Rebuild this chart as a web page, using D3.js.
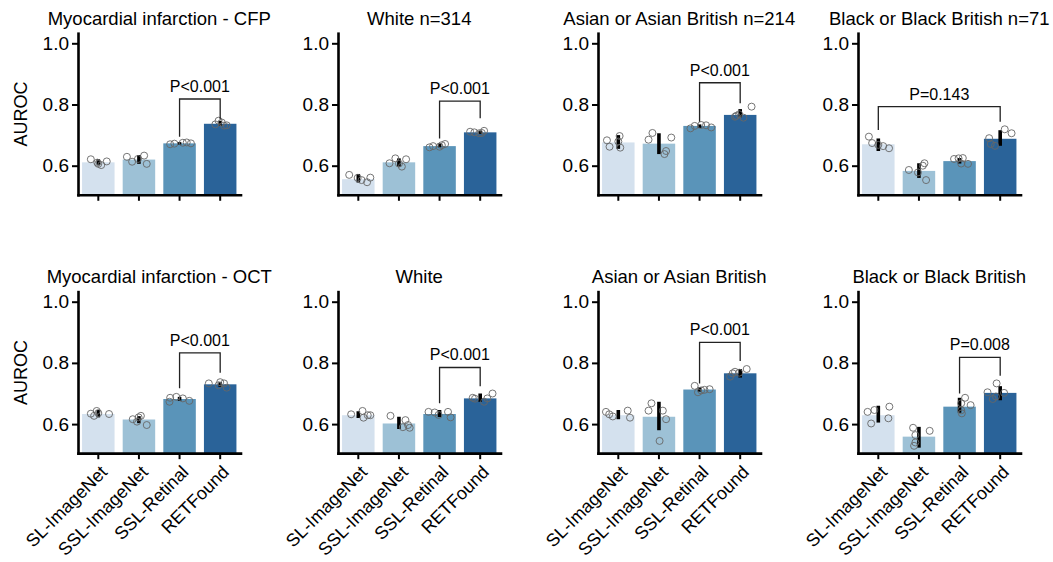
<!DOCTYPE html>
<html>
<head>
<meta charset="utf-8">
<script src="https://cdn.jsdelivr.net/npm/d3@7"></script>
<style>
  html, body { margin: 0; padding: 0; background: #fff; }
  svg { display: block; font-family: "Liberation Sans", Arial, Helvetica, sans-serif; }
</style>
</head>
<body>
<svg id="chart" width="1053" height="562"></svg>
<script>
// ---------------- DATA ----------------
const models = ["SL-ImageNet", "SSL-ImageNet", "SSL-Retinal", "RETFound"];
const panelTitles = [
  "Myocardial infarction - CFP", "White n=314", "Asian or Asian British n=214", "Black or Black British n=71",
  "Myocardial infarction - OCT", "White", "Asian or Asian British", "Black or Black British"
];
const yTicks = [0.6, 0.8, 1.0];
const yLabel = "AUROC";

// bar heights (mean AUROC over folds)
const meanAUROC = [
  [0.611, 0.620, 0.673, 0.737],
  [0.556, 0.611, 0.664, 0.709],
  [0.676, 0.672, 0.730, 0.766],
  [0.670, 0.583, 0.615, 0.688],
  [0.633, 0.615, 0.682, 0.730],
  [0.629, 0.602, 0.633, 0.684],
  [0.629, 0.624, 0.713, 0.766],
  [0.629, 0.559, 0.657, 0.702]
];
// error bar low / high
const errLow = [
  [0.603, 0.606, 0.669, 0.730],
  [0.545, 0.597, 0.660, 0.704],
  [0.655, 0.638, 0.723, 0.758],
  [0.648, 0.560, 0.607, 0.665],
  [0.622, 0.603, 0.676, 0.722],
  [0.620, 0.584, 0.623, 0.673],
  [0.616, 0.580, 0.706, 0.752],
  [0.605, 0.523, 0.637, 0.678]
];
const errHigh = [
  [0.621, 0.635, 0.677, 0.747],
  [0.573, 0.624, 0.673, 0.714],
  [0.700, 0.706, 0.735, 0.785],
  [0.689, 0.608, 0.625, 0.716],
  [0.646, 0.626, 0.689, 0.737],
  [0.642, 0.624, 0.646, 0.700],
  [0.646, 0.673, 0.720, 0.780],
  [0.660, 0.591, 0.686, 0.724]
];
// per-fold AUROC values (5 folds per bar)
const foldValues = [
  [[0.621, 0.610, 0.602, 0.614, 0.606], [0.629, 0.613, 0.622, 0.633, 0.606], [0.670, 0.672, 0.675, 0.676, 0.673], [0.747, 0.741, 0.731, 0.735, 0.732]],
  [[0.570, 0.560, 0.553, 0.546, 0.561], [0.608, 0.624, 0.597, 0.621, 0.607], [0.660, 0.664, 0.662, 0.667, 0.671], [0.711, 0.709, 0.706, 0.714, 0.707]],
  [[0.683, 0.662, 0.697, 0.659, 0.679], [0.685, 0.707, 0.638, 0.648, 0.692], [0.722, 0.730, 0.733, 0.732, 0.725], [0.760, 0.768, 0.757, 0.763, 0.793]],
  [[0.695, 0.674, 0.668, 0.664, 0.657], [0.586, 0.578, 0.600, 0.608, 0.553], [0.622, 0.624, 0.625, 0.607, 0.606], [0.690, 0.671, 0.665, 0.719, 0.706]],
  [[0.634, 0.627, 0.643, 0.636, 0.633], [0.616, 0.608, 0.627, 0.597, 0.622], [0.673, 0.686, 0.689, 0.684, 0.676], [0.733, 0.737, 0.733, 0.719, 0.727]],
  [[0.632, 0.643, 0.621, 0.629, 0.629], [0.627, 0.613, 0.597, 0.588, 0.590], [0.640, 0.638, 0.630, 0.640, 0.622], [0.686, 0.683, 0.673, 0.684, 0.700]],
  [[0.640, 0.632, 0.625, 0.644, 0.621], [0.644, 0.668, 0.545, 0.644, 0.616], [0.725, 0.704, 0.710, 0.712, 0.714], [0.755, 0.766, 0.771, 0.768, 0.780]],
  [[0.640, 0.602, 0.646, 0.657, 0.619], [0.588, 0.564, 0.529, 0.578, 0.540], [0.668, 0.635, 0.686, 0.662, 0.645], [0.704, 0.682, 0.733, 0.702, 0.690]]
];
// horizontal strip jitter of each fold point (fraction of bar width)
const foldJitter = [
  [[-0.23, -0.03, 0.09, 0.26, 0.00], [-0.37, -0.21, -0.03, 0.16, 0.24], [-0.29, -0.16, 0.10, 0.22, 0.35], [-0.05, 0.05, 0.12, -0.15, 0.20]],
  [[-0.28, -0.02, 0.10, 0.27, 0.37], [-0.29, -0.11, 0.09, 0.22, 0.00], [-0.31, -0.20, 0.00, 0.07, 0.17], [-0.31, -0.18, -0.03, 0.12, 0.05]],
  [[-0.35, -0.27, 0.04, 0.06, 0.00], [-0.32, -0.20, 0.17, 0.22, 0.38], [-0.28, -0.15, 0.05, 0.20, 0.36], [-0.16, -0.03, 0.10, -0.12, 0.35]],
  [[-0.29, -0.19, 0.00, 0.15, 0.33], [-0.31, -0.03, 0.12, 0.17, 0.22], [-0.17, -0.03, 0.10, 0.05, 0.26], [-0.34, -0.29, -0.16, 0.14, 0.35]],
  [[-0.23, -0.13, -0.05, 0.00, 0.33], [-0.19, -0.06, 0.06, 0.24, -0.01], [-0.31, -0.29, -0.10, 0.10, 0.30], [-0.35, 0.00, 0.12, 0.20, -0.05]],
  [[-0.22, 0.13, 0.16, 0.29, 0.37], [-0.26, 0.20, 0.28, 0.33, 0.12], [-0.34, -0.15, -0.03, 0.26, 0.34], [-0.23, -0.16, 0.12, 0.22, 0.38]],
  [[-0.38, -0.28, -0.17, 0.29, 0.36], [-0.32, -0.23, 0.02, 0.12, 0.22], [-0.15, -0.05, 0.05, 0.15, 0.31], [-0.31, -0.23, -0.16, -0.03, 0.20]],
  [[-0.33, -0.22, -0.12, 0.34, 0.31], [-0.18, -0.11, -0.15, 0.33, -0.11], [0.05, 0.07, 0.17, 0.34, 0.05], [-0.39, -0.23, -0.11, 0.12, -0.13]]
];
// significance annotations
const sigPairs = [[2, 3], [2, 3], [2, 3], [0, 3], [2, 3], [2, 3], [2, 3], [2, 3]];
const sigLabels = ["P<0.001", "P<0.001", "P<0.001", "P=0.143", "P<0.001", "P<0.001", "P<0.001", "P=0.008"];
const sigTop = [0.818, 0.811, 0.871, 0.793, 0.833, 0.785, 0.867, 0.818];
const sigLeftEnd = [0.695, 0.689, 0.744, 0.717, 0.717, 0.668, 0.733, 0.700];
const sigRightEnd = [0.753, 0.755, 0.804, 0.744, 0.768, 0.724, 0.806, 0.758];

const barColors = ["#d4e1ee", "#9dc1d6", "#5a94b9", "#2a6399"];

// ---------------- LAYOUT ----------------
const svg = d3.select("#chart");
const colLeft = [78, 338, 598, 858];
const axW = 162.5;
const rowOne = [43.3, 301.7];   // pixel y of AUROC = 1.0 per row
const pxPerUnit = 306;
const yMin = 0.505, yMax = 1.033;
const FONT = "Liberation Sans, Arial, sans-serif";

const color = d3.scaleOrdinal().domain(models).range(barColors);

panelTitles.forEach((title, p) => {
  const row = Math.floor(p / 4), col = p % 4;
  const left = colLeft[col];
  const y = d3.scaleLinear().domain([yMin, yMax])
    .range([rowOne[row] + (1 - yMin) * pxPerUnit, rowOne[row] - (yMax - 1) * pxPerUnit]);
  const x = d3.scaleBand().domain(models).range([left, left + axW]).paddingInner(0.2).paddingOuter(0.1);
  const bottom = y.range()[0];
  const g = svg.append("g");

  // bars
  g.selectAll("rect.bar").data(models).join("rect")
    .attr("class", "bar")
    .attr("x", d => x(d))
    .attr("width", x.bandwidth())
    .attr("y", (d, i) => y(meanAUROC[p][i]))
    .attr("height", (d, i) => bottom - y(meanAUROC[p][i]))
    .attr("fill", d => color(d));

  // error bars
  g.selectAll("line.err").data(models).join("line")
    .attr("class", "err")
    .attr("x1", d => x(d) + x.bandwidth() / 2)
    .attr("x2", d => x(d) + x.bandwidth() / 2)
    .attr("y1", (d, i) => y(errLow[p][i]))
    .attr("y2", (d, i) => y(errHigh[p][i]))
    .attr("stroke", "#000").attr("stroke-width", 3.6);

  // fold points
  const pts = [];
  models.forEach((m, i) => foldValues[p][i].forEach((v, k) => pts.push({ m, v, j: foldJitter[p][i][k] })));
  g.selectAll("circle.pt").data(pts).join("circle")
    .attr("class", "pt")
    .attr("cx", d => x(d.m) + x.bandwidth() / 2 + d.j * x.bandwidth())
    .attr("cy", d => y(d.v))
    .attr("r", 3.5)
    .attr("fill", "none")
    .attr("stroke", "#666")
    .attr("stroke-width", 0.9);

  // axes
  const yAxis = g.append("g").attr("transform", `translate(${left},0)`)
    .call(d3.axisLeft(y).tickValues(yTicks).tickFormat(d3.format(".1f")).tickSizeInner(6).tickSizeOuter(0).tickPadding(3));
  yAxis.select(".domain").attr("stroke-width", 2.6).attr("stroke-linecap", "square");
  yAxis.selectAll(".tick line").attr("stroke-width", 2);
  yAxis.selectAll(".tick text").attr("font-size", "19px").attr("fill", "#000")
    .attr("font-family", FONT);

  const xAxis = g.append("g").attr("transform", `translate(0,${bottom})`)
    .call(d3.axisBottom(x).tickSizeInner(6).tickSizeOuter(0));
  xAxis.select(".domain").attr("stroke-width", 2.6).attr("stroke-linecap", "square");
  xAxis.selectAll(".tick line").attr("stroke-width", 2);
  if (row === 1) {
    xAxis.selectAll(".tick text")
      .attr("x", 0).attr("y", 0).attr("dy", 0)
      .attr("text-anchor", "end")
      .attr("transform", "translate(10,20) rotate(-45)")
      .attr("font-size", "18px").attr("fill", "#000")
      .attr("font-family", FONT);
  } else {
    xAxis.selectAll(".tick text").remove();
  }

  // title
  g.append("text")
    .attr("x", left + axW / 2)
    .attr("y", rowOne[row] - 18.5)
    .attr("text-anchor", "middle")
    .attr("font-size", "18.5px")
    .attr("fill", "#000")
    .text(title);

  // y label on first column
  if (col === 0) {
    const cy = (y.range()[0] + y.range()[1]) / 2;
    g.append("text")
      .attr("transform", `translate(27,${cy}) rotate(-90)`)
      .attr("text-anchor", "middle")
      .attr("font-size", "18px")
      .attr("fill", "#000")
      .text(yLabel);
  }

  // significance bracket
  const [a, b] = sigPairs[p];
  const xa = x(models[a]) + x.bandwidth() / 2, xb = x(models[b]) + x.bandwidth() / 2;
  const path = d3.path();
  path.moveTo(xa, y(sigLeftEnd[p]));
  path.lineTo(xa, y(sigTop[p]));
  path.lineTo(xb, y(sigTop[p]));
  path.lineTo(xb, y(sigRightEnd[p]));
  g.append("path").attr("d", path.toString())
    .attr("fill", "none").attr("stroke", "#222").attr("stroke-width", 1.3);
  g.append("text")
    .attr("x", (xa + xb) / 2)
    .attr("y", y(sigTop[p]) - 7)
    .attr("text-anchor", "middle")
    .attr("font-size", "16px")
    .attr("fill", "#000")
    .text(sigLabels[p]);
});
</script>
</body>
</html>
